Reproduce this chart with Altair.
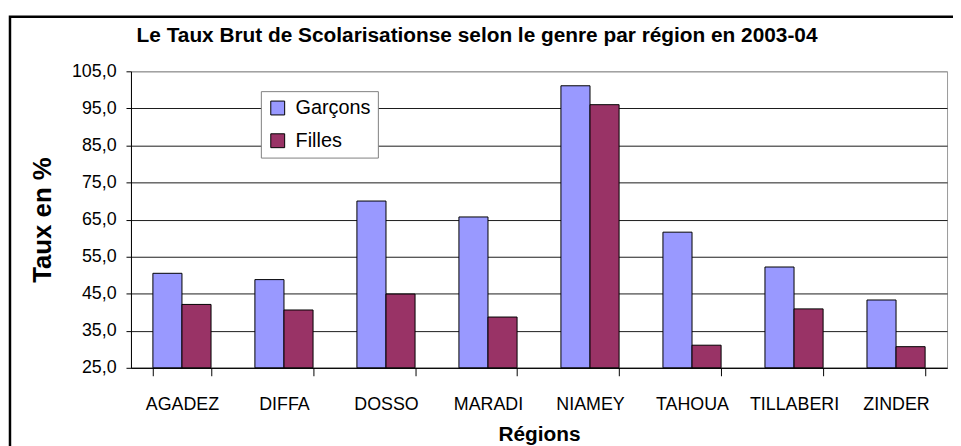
import altair as alt
import pandas as pd

regions = ["AGADEZ", "DIFFA", "DOSSO", "MARADI", "NIAMEY", "TAHOUA", "TILLABERI", "ZINDER"]
garcons = [50.5, 48.8, 70.0, 65.7, 101.1, 61.6, 52.2, 43.3]
filles = [42.1, 40.6, 44.9, 38.7, 96.0, 31.1, 40.9, 30.7]
series = ["Garçons", "Filles"]
colors = ["#9999FF", "#993366"]
y_ticks = [25, 35, 45, 55, 65, 75, 85, 95, 105]
title_text = "Le Taux Brut de Scolarisationse selon le genre par région en 2003-04"

rows = []
for i, r in enumerate(regions):
    rows.append({"Région": r, "Genre": series[0], "Taux": garcons[i]})
    rows.append({"Région": r, "Genre": series[1], "Taux": filles[i]})
df = pd.DataFrame(rows)

W, H = 823, 299
FONT = "Liberation Sans"

bars = alt.Chart(df).mark_bar(stroke="black", strokeWidth=1).encode(
    x=alt.X(
        "Région:N",
        sort=regions,
        scale=alt.Scale(paddingInner=0.43, paddingOuter=0.215),
        axis=alt.Axis(
            title="Régions",
            titleFont=FONT, titleFontSize=21, titleFontWeight="bold", titleColor="black",
            titleBaseline="alphabetic", titleY=73, titleAlign="center",
            labelFont=FONT,
            labelFontSize=18, labelColor="black", labelAngle=0,
            labelBaseline="alphabetic", labelPadding=34,
            tickBand="extent", tickSize=8, tickColor="black",
            domainColor="black", grid=False,
        ),
    ),
    xOffset=alt.XOffset("Genre:N", sort=series, scale=alt.Scale(paddingInner=0, paddingOuter=0)),
    y=alt.Y(
        "Taux:Q",
        scale=alt.Scale(domain=[25, 105], zero=False, nice=False),
        axis=alt.Axis(
            title="Taux en %",
            titleFont=FONT, titleFontSize=26, titleFontWeight="bold", titleColor="black",
            titleAngle=270, titleX=-89, titleY=H / 2, titleAlign="center", titleBaseline="middle",
            values=y_ticks,
            labelExpr="replace(format(datum.value, '.1f'), '.', ',')",
            labelFont=FONT, labelFontSize=18, labelColor="black", labelPadding=10,
            tickSize=5, tickColor="black", domainColor="black",
            grid=True, gridColor=alt.condition("datum.value == 105", alt.value("#999999"), alt.value("#1a1a1a")),
            gridWidth=1,
        ),
    ),
    y2=alt.datum(25),
    color=alt.Color(
        "Genre:N",
        sort=series,
        scale=alt.Scale(domain=series, range=colors),
        legend=alt.Legend(
            title=None, orient="none", legendX=131, legendY=20,
            fillColor="white", strokeColor="#808080", padding=7, rowPadding=13,
            symbolType="square", symbolSize=196, symbolStrokeColor="black", symbolStrokeWidth=1,
            symbolOpacity=1,
            labelFont=FONT, labelFontSize=20, labelColor="black", labelOffset=8,
        ),
    ),
)

title = alt.Chart(pd.DataFrame({"t": [title_text]})).mark_text(
    font=FONT, fontSize=21, fontWeight="bold", align="center", baseline="alphabetic", color="black"
).encode(text="t:N", x=alt.value(349), y=alt.value(-29.5))

frame = alt.Chart(pd.DataFrame({"f": [0]})).mark_rect(
    fillOpacity=0, stroke="black", strokeWidth=2.5
).encode(x=alt.value(-122), x2=alt.value(W + 60), y=alt.value(-55), y2=alt.value(H + 140))

chart = alt.layer(frame, bars, title).properties(
    width=W, height=H,
    autosize=alt.AutoSizeParams(type="none"),
    padding={"left": 124, "top": 62, "right": 6, "bottom": 77},
    background="white",
).configure(font=FONT).configure_view(stroke="#999999", strokeWidth=1)

chart.save("out.html", embed_options={"renderer": "svg", "actions": False})
